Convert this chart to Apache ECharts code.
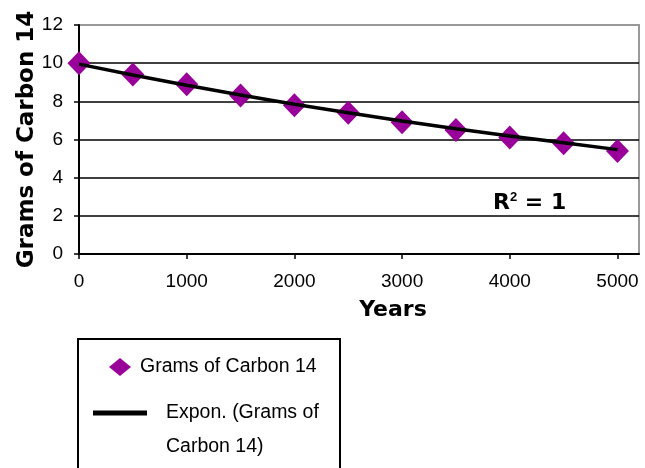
<!DOCTYPE html>
<html>
<head>
<meta charset="utf-8">
<script src="https://cdn.jsdelivr.net/npm/echarts@6/dist/echarts.min.js"></script>
<style>html,body{margin:0;padding:0;background:#fff;}#c{width:645px;height:468px;}</style>
</head>
<body>
<div id="c"></div>
<script>
var years = [0, 500, 1000, 1500, 2000, 2500, 3000, 3500, 4000, 4500, 5000];
var grams = [10, 9.4, 8.9, 8.3, 7.8, 7.4, 6.9, 6.5, 6.1, 5.8, 5.4];
var trendGrams = [9.95, 9.38, 8.84, 8.33, 7.85, 7.40, 6.97, 6.56, 6.18, 5.83, 5.47];
var xTicks = [0, 1000, 2000, 3000, 4000, 5000];
var yTicks = [0, 2, 4, 6, 8, 10, 12];
var seriesName = 'Grams of Carbon 14';
var trendName = 'Expon. (Grams of Carbon 14)';

var chart = echarts.init(document.getElementById('c'));
chart.setOption({
  animation: false,
  backgroundColor: '#fff',
  textStyle: {fontFamily: 'Liberation Sans, Arial, sans-serif'},
  grid: {left: 79, right: 6, top: 25, bottom: 214, show: true, borderColor: '#9a9a9a', borderWidth: 2, backgroundColor: '#fff'},
  xAxis: {
    type: 'value', min: 0, max: 5200, interval: 1000,
    name: 'Years', nameLocation: 'middle', nameGap: 45, nameMoveOverlap: false,
    nameTextStyle: {fontFamily: 'DejaVu Sans', fontWeight: 'bold', fontSize: 22, color: '#000', padding: [0, 0, 0, 68]},
    axisLine: {show: true, lineStyle: {color: '#000', width: 2}},
    axisTick: {show: true, length: 5, lineStyle: {color: '#000', width: 1.5}, customValues: xTicks},
    axisLabel: {color: '#000', fontSize: 19, margin: 18, customValues: xTicks, formatter: function (v) { return String(v); }},
    splitLine: {show: false}
  },
  yAxis: {
    type: 'value', min: 0, max: 12, interval: 2,
    name: 'Grams of Carbon 14', nameLocation: 'middle', nameGap: 40, nameRotate: 90, nameMoveOverlap: false,
    nameTextStyle: {fontFamily: 'DejaVu Sans', fontWeight: 'bold', fontSize: 23, color: '#000'},
    axisLine: {show: true, lineStyle: {color: '#000', width: 2}},
    axisTick: {show: true, length: 5, lineStyle: {color: '#000', width: 1.5}},
    axisLabel: {color: '#000', fontSize: 19, margin: 16, formatter: function (v) { return String(v); }},
    splitLine: {show: true, showMaxLine: false, lineStyle: {color: '#000', width: 1.5}}
  },
  title: {
    left: 488, top: 186,
    text: '{b|R}{s|2}{b| = 1}',
    textStyle: {
      rich: {
        b: {fontFamily: 'DejaVu Sans', fontWeight: 'bold', fontSize: 22, color: '#000'},
        s: {fontFamily: 'Liberation Sans', fontSize: 13, color: '#000', padding: [0, 0, 12, 0]}
      }
    }
  },
  legend: [
    {
      data: [seriesName], orient: 'vertical', left: 104, top: 352,
      itemWidth: 22, itemHeight: 18,
      textStyle: {fontSize: 19.5, color: '#000', padding: [0, 0, 0, 4]},
      selectedMode: false
    },
    {
      data: [{name: trendName, icon: 'rect'}], orient: 'vertical', left: 88, top: 357,
      itemWidth: 54, itemHeight: 5,
      itemStyle: {color: '#000'},
      formatter: function (n) { return '{p|}\n{a|Expon. (Grams of}\n{a|Carbon 14)}'; },
      textStyle: {
        fontSize: 19.5, color: '#000', padding: [0, 0, 0, 14],
        rich: {
          p: {height: 34, lineHeight: 34},
          a: {fontSize: 19.5, color: '#000', lineHeight: 34, height: 34}
        }
      },
      selectedMode: false
    }
  ],
  graphic: [{
    type: 'rect', shape: {x: 78, y: 339, width: 262, height: 200},
    style: {fill: 'none', stroke: '#000', lineWidth: 2}, silent: true
  }],
  series: [
    {
      name: seriesName, type: 'scatter', symbol: 'diamond', symbolSize: [23, 24],
      itemStyle: {color: '#990099', opacity: 1},
      data: years.map(function (x, i) { return [x, grams[i]]; }),
      z: 2
    },
    {
      name: trendName, type: 'line', symbol: 'none', showSymbol: false,
      lineStyle: {color: '#000', width: 3.5},
      itemStyle: {color: '#000'},
      data: years.map(function (x, i) { return [x, trendGrams[i]]; }),
      z: 3
    }
  ]
});
</script>
</body>
</html>
